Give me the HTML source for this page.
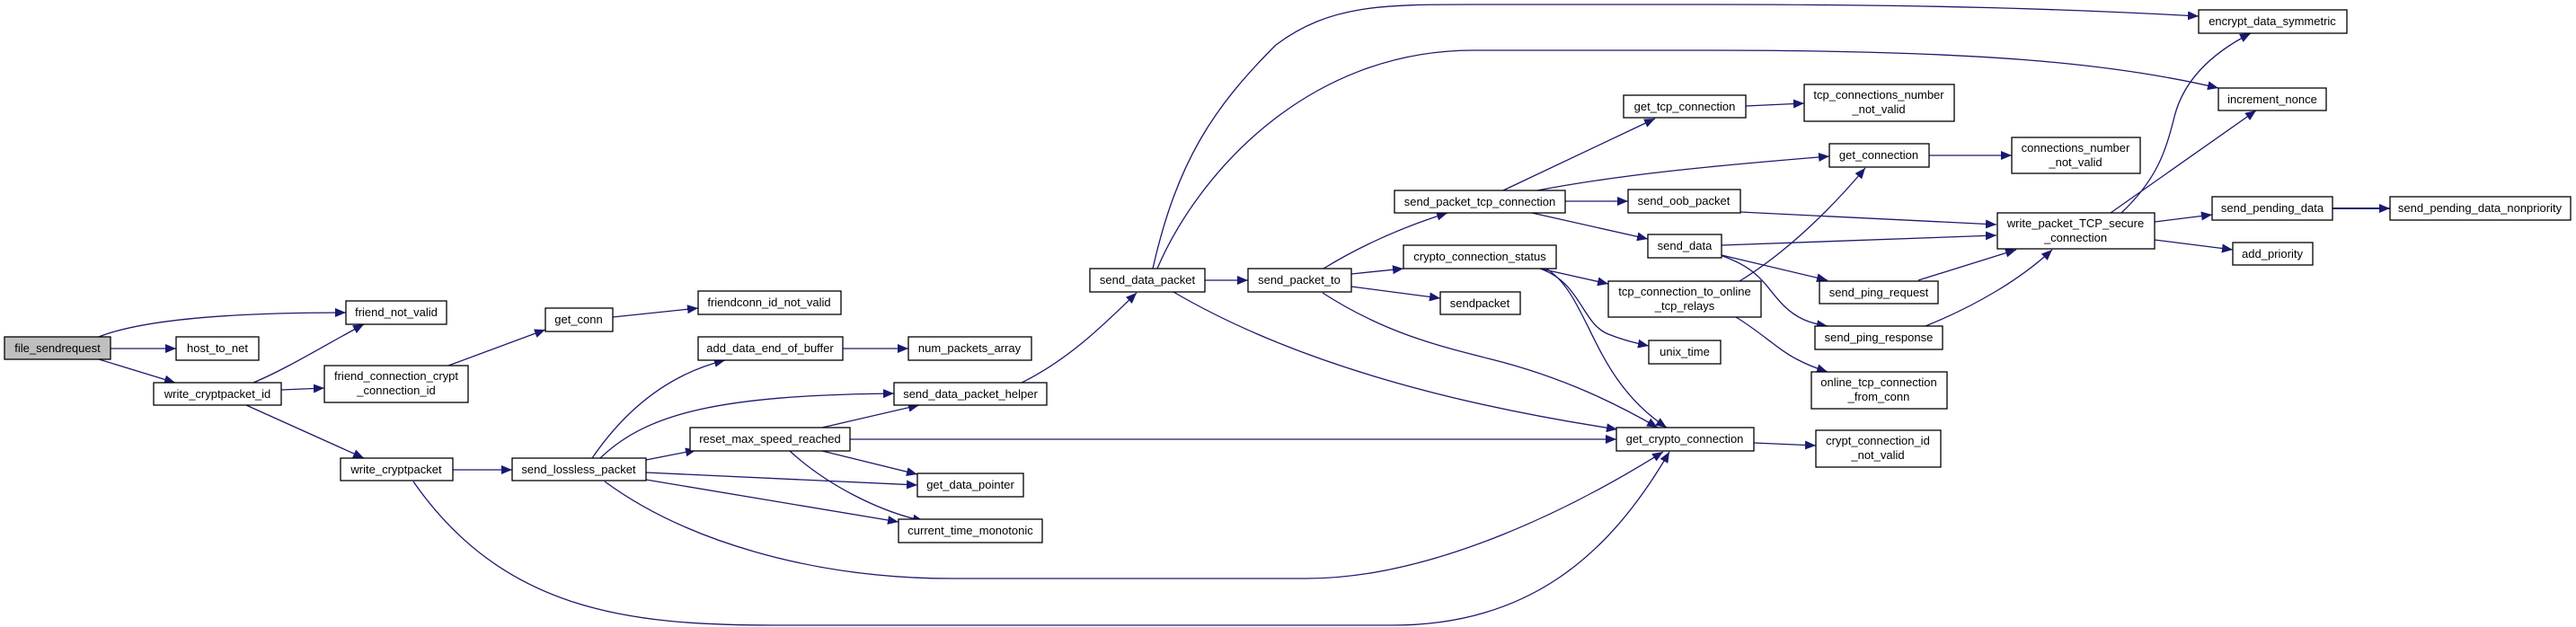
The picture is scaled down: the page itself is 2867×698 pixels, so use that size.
<!DOCTYPE html>
<html><head><meta charset="utf-8"><style>
html,body{margin:0;padding:0;background:#fff;}
svg{display:block;}
text{font-family:"Liberation Sans",Arial,sans-serif;font-size:13px;fill:#000;text-anchor:middle;}
.e{fill:none;stroke:#191970;stroke-width:1.3;marker-end:url(#a);}
rect{fill:#fff;stroke:#000;stroke-width:1.3;}
</style></head><body>
<svg width="2867" height="698" viewBox="0 0 2867 698" xmlns="http://www.w3.org/2000/svg">
<defs><marker id="a" markerUnits="userSpaceOnUse" markerWidth="14" markerHeight="10" refX="12" refY="5" orient="auto"><path d="M0,0 L12,5 L0,10 Z" fill="#191970"/></marker></defs>
<g>
<path class="e" d="M110,375 C160,355 260,348 385,348"/>
<path class="e" d="M123,388 L196,388"/>
<path class="e" d="M110,400 L195,426"/>
<path class="e" d="M282,426 C320,410 360,385 405,361"/>
<path class="e" d="M313,434 L361,432"/>
<path class="e" d="M274,451 L405,510"/>
<path class="e" d="M499,407 L607,367"/>
<path class="e" d="M682,353 L777,343"/>
<path class="e" d="M504,523 L570,523"/>
<path class="e" d="M460,536 C560,680 700,696 860,696 L1550,696 C1700,696 1790,620 1858,503"/>
<path class="e" d="M659,510 C700,450 750,415 807,401"/>
<path class="e" d="M668,510 C720,460 800,440 995,438"/>
<path class="e" d="M719,512 L775,501"/>
<path class="e" d="M719,526 L1021,540"/>
<path class="e" d="M719,534 L1000,581"/>
<path class="e" d="M673,536 C760,600 900,644 1060,644 L1454,644 C1600,644 1760,560 1851,503"/>
<path class="e" d="M915,476 L1023,451"/>
<path class="e" d="M946,489 L1799,489"/>
<path class="e" d="M915,502 L1021,528"/>
<path class="e" d="M879,502 C920,540 980,570 1028,580"/>
<path class="e" d="M938,388 L1011,388"/>
<path class="e" d="M1137,426 C1190,400 1230,360 1265,326"/>
<path class="e" d="M1283,299 C1310,180 1350,120 1420,50 C1480,5 1540,5 1640,5 L1900,5 C2150,5 2300,10 2447,18"/>
<path class="e" d="M1288,299 C1330,200 1450,56 1640,56 L1900,56 C2200,56 2350,70 2469,98"/>
<path class="e" d="M1341,312 L1389,312"/>
<path class="e" d="M1306,325 C1400,380 1550,440 1800,478"/>
<path class="e" d="M1473,299 C1520,270 1570,250 1611,237"/>
<path class="e" d="M1504,305 L1562,299"/>
<path class="e" d="M1504,319 L1603,332"/>
<path class="e" d="M1472,326 C1540,370 1600,385 1660,400 C1740,420 1800,450 1845,476"/>
<path class="e" d="M1714,299 L1790,316"/>
<path class="e" d="M1714,299 C1760,315 1760,360 1790,372 C1805,378 1820,382 1835,385"/>
<path class="e" d="M1721,299 C1770,330 1770,420 1855,476"/>
<path class="e" d="M1673,212 L1842,132"/>
<path class="e" d="M1711,212 C1800,195 1900,185 2036,174"/>
<path class="e" d="M1742,224 L1812,224"/>
<path class="e" d="M1705,237 L1834,266"/>
<path class="e" d="M1943,118 L2008,115"/>
<path class="e" d="M2147,173 L2239,173"/>
<path class="e" d="M1937,236 L2222,250"/>
<path class="e" d="M1916,273 L2222,262"/>
<path class="e" d="M1916,284 L2034,312"/>
<path class="e" d="M1917,285 C1960,300 1965,320 1985,340 C2000,355 2015,360 2034,363"/>
<path class="e" d="M1936,313 C1990,280 2040,230 2076,187"/>
<path class="e" d="M1932,353 C1960,370 1980,390 2000,400 C2015,408 2025,411 2034,414"/>
<path class="e" d="M2135,312 L2244,278"/>
<path class="e" d="M2143,363 C2200,340 2250,310 2284,278"/>
<path class="e" d="M2361,237 C2400,200 2410,170 2420,130 C2430,90 2460,60 2505,37"/>
<path class="e" d="M2349,237 L2511,123"/>
<path class="e" d="M2398,247 L2462,239"/>
<path class="e" d="M2398,267 L2485,278"/>
<path class="e" d="M2596,232 L2660,232" style="stroke-width:2"/>
<path class="e" d="M1952,493 L2021,496"/>
</g>
<g>
<rect x="5" y="375" width="118" height="25" style="fill:#bfbfbf"/><text x="64" y="392">file_sendrequest</text>
<rect x="196" y="375" width="92" height="26"/><text x="242" y="392">host_to_net</text>
<rect x="385" y="335" width="112" height="26"/><text x="441" y="352">friend_not_valid</text>
<rect x="171" y="426" width="142" height="25"/><text x="242" y="443">write_cryptpacket_id</text>
<rect x="361" y="407" width="160" height="41"/><text x="441" y="423">friend_connection_crypt</text><text x="441" y="439">_connection_id</text>
<rect x="607" y="343" width="75" height="26"/><text x="644" y="360">get_conn</text>
<rect x="777" y="324" width="159" height="26"/><text x="856" y="341">friendconn_id_not_valid</text>
<rect x="777" y="375" width="161" height="26"/><text x="857" y="392">add_data_end_of_buffer</text>
<rect x="768" y="476" width="178" height="26"/><text x="857" y="493">reset_max_speed_reached</text>
<rect x="379" y="510" width="125" height="25"/><text x="441" y="527">write_cryptpacket</text>
<rect x="570" y="510" width="149" height="25"/><text x="644" y="527">send_lossless_packet</text>
<rect x="1011" y="375" width="137" height="26"/><text x="1079" y="392">num_packets_array</text>
<rect x="995" y="426" width="170" height="25"/><text x="1080" y="443">send_data_packet_helper</text>
<rect x="1021" y="527" width="118" height="26"/><text x="1080" y="544">get_data_pointer</text>
<rect x="1000" y="578" width="160" height="26"/><text x="1080" y="595">current_time_monotonic</text>
<rect x="1213" y="299" width="128" height="26"/><text x="1277" y="316">send_data_packet</text>
<rect x="1389" y="299" width="115" height="26"/><text x="1446" y="316">send_packet_to</text>
<rect x="1552" y="212" width="190" height="25"/><text x="1647" y="229">send_packet_tcp_connection</text>
<rect x="1562" y="273" width="170" height="26"/><text x="1647" y="290">crypto_connection_status</text>
<rect x="1603" y="325" width="89" height="25"/><text x="1647" y="342">sendpacket</text>
<rect x="1807" y="106" width="136" height="25"/><text x="1875" y="123">get_tcp_connection</text>
<rect x="1812" y="211" width="125" height="26"/><text x="1874" y="228">send_oob_packet</text>
<rect x="1834" y="261" width="82" height="26"/><text x="1875" y="278">send_data</text>
<rect x="1790" y="313" width="170" height="40"/><text x="1875" y="329">tcp_connection_to_online</text><text x="1875" y="345">_tcp_relays</text>
<rect x="1835" y="379" width="80" height="26"/><text x="1875" y="396">unix_time</text>
<rect x="1799" y="476" width="153" height="26"/><text x="1875" y="493">get_crypto_connection</text>
<rect x="2008" y="94" width="167" height="41"/><text x="2091" y="110">tcp_connections_number</text><text x="2091" y="126">_not_valid</text>
<rect x="2036" y="160" width="111" height="26"/><text x="2091" y="177">get_connection</text>
<rect x="2239" y="153" width="143" height="40"/><text x="2310" y="169">connections_number</text><text x="2310" y="185">_not_valid</text>
<rect x="2025" y="313" width="132" height="25"/><text x="2091" y="330">send_ping_request</text>
<rect x="2020" y="363" width="142" height="26"/><text x="2091" y="380">send_ping_response</text>
<rect x="2016" y="414" width="151" height="41"/><text x="2091" y="430">online_tcp_connection</text><text x="2091" y="446">_from_conn</text>
<rect x="2021" y="479" width="139" height="41"/><text x="2090" y="495">crypt_connection_id</text><text x="2090" y="511">_not_valid</text>
<rect x="2223" y="237" width="175" height="40"/><text x="2310" y="253">write_packet_TCP_secure</text><text x="2310" y="269">_connection</text>
<rect x="2447" y="11" width="165" height="26"/><text x="2529" y="28">encrypt_data_symmetric</text>
<rect x="2469" y="98" width="120" height="25"/><text x="2529" y="115">increment_nonce</text>
<rect x="2462" y="219" width="134" height="26"/><text x="2529" y="236">send_pending_data</text>
<rect x="2485" y="270" width="89" height="25"/><text x="2529" y="287">add_priority</text>
<rect x="2660" y="219" width="201" height="26"/><text x="2760" y="236">send_pending_data_nonpriority</text>
</g>
</svg>
</body></html>
